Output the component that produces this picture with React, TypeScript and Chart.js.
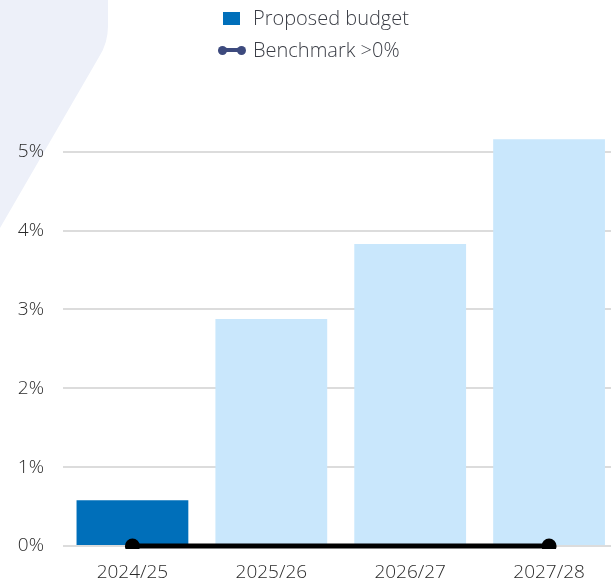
import React, { useEffect, useRef } from "react";
import { Chart, registerables } from "chart.js";

Chart.register(...registerables);

const categories = ["2024/25", "2025/26", "2026/27", "2027/28"];
const budgetValues = [0.58, 2.88, 3.83, 5.16];
const benchmarkValues = [0, 0, 0, 0];
const yTickValues = [0, 1, 2, 3, 4, 5];
const legendLabels = ["Proposed budget", "Benchmark >0%"];

const DARK_BLUE = "#006fba";
const LIGHT_BLUE = "#c9e7fc";
const NAVY = "#3d4a7e";
const TEXT = "#3a3d45";
const TICK_TEXT = "#2a2a2a";
const FONT = "'Open Sans', 'Noto Sans', sans-serif";

const bgShape = {
  id: "bgShape",
  beforeDraw(chart: any) {
    const ctx = chart.ctx;
    ctx.save();
    ctx.fillStyle = "#edf0f9";
    ctx.beginPath();
    ctx.moveTo(0, 0);
    ctx.lineTo(108, 0);
    ctx.lineTo(108, 26);
    ctx.quadraticCurveTo(108, 43, 99, 57);
    ctx.lineTo(0, 228);
    ctx.closePath();
    ctx.fill();
    ctx.restore();
  },
};

export default function App() {
  const ref = useRef<HTMLCanvasElement>(null);
  useEffect(() => {
    if (!ref.current) return;
    const chart = new Chart(ref.current, {
      type: "bar",
      data: {
        labels: categories,
        datasets: [
          {
            type: "line",
            label: legendLabels[1],
            data: benchmarkValues,
            borderColor: "#000",
            backgroundColor: "#000",
            borderWidth: 5,
            pointRadius: benchmarkValues.map((_, i) => (i === 0 || i === benchmarkValues.length - 1 ? 7.5 : 0)),
            pointHoverRadius: 0,
            pointBorderWidth: 0,
            clip: { left: 20, right: 20, top: 0, bottom: 3 } as any,
            order: 0,
          } as any,
          {
            type: "bar",
            label: legendLabels[0],
            data: budgetValues,
            backgroundColor: budgetValues.map((_, i) => (i === 0 ? DARK_BLUE : LIGHT_BLUE)),
            barPercentage: 0.805,
            categoryPercentage: 1,
            order: 1,
          },
        ],
      },
      options: {
        animation: false,
        responsive: false,
        maintainAspectRatio: false,
        layout: { padding: { left: 0, right: 1, top: 136, bottom: 0 } },
        plugins: { legend: { display: false }, tooltip: { enabled: false } },
        scales: {
          x: {
            grid: { display: false, drawTicks: false },
            border: { display: false },
            afterFit: (scale: any) => {
              scale.height = 40;
            },
            ticks: { color: TICK_TEXT, font: { family: FONT, size: 19, weight: 300 as any }, padding: 15 },
          },
          y: {
            min: 0,
            max: 5.2,
            afterBuildTicks: (scale: any) => {
              scale.ticks = yTickValues.map((v) => ({ value: v }));
            },
            afterFit: (scale: any) => {
              scale.width = 63;
            },
            grid: { color: "#dcdcdc", lineWidth: 2, drawTicks: false },
            border: { display: false },
            ticks: {
              color: TICK_TEXT,
              font: { family: FONT, size: 19, weight: 300 as any },
              padding: 19,
              callback: (v: any) => `${v}%`,
            },
          },
        },
      },
      plugins: [bgShape],
    });
    return () => chart.destroy();
  }, []);

  return (
    <div style={{ position: "fixed", left: 0, top: 0, width: 611, height: 586, overflow: "hidden", background: "#fff" }}>
      <canvas ref={ref} width={626} height={586} style={{ position: "absolute", left: 0, top: 0, width: 626, height: 586 }} />
      <div style={{ position: "absolute", left: 0, top: 0, fontFamily: FONT, fontWeight: 300, fontSize: 20, color: TEXT }}>
        <div style={{ position: "absolute", left: 223, top: 12, width: 17, height: 13, background: DARK_BLUE }} />
        <div style={{ position: "absolute", left: 253, top: 4, whiteSpace: "nowrap", lineHeight: "28px" }}>{legendLabels[0]}</div>
        <div style={{ position: "absolute", left: 221, top: 48, width: 22, height: 4, background: NAVY }} />
        <div style={{ position: "absolute", left: 218, top: 45.5, width: 9, height: 9, borderRadius: 5, background: NAVY }} />
        <div style={{ position: "absolute", left: 237, top: 45.5, width: 9, height: 9, borderRadius: 5, background: NAVY }} />
        <div style={{ position: "absolute", left: 253, top: 36, whiteSpace: "nowrap", lineHeight: "28px" }}>{legendLabels[1]}</div>
      </div>
    </div>
  );
}
